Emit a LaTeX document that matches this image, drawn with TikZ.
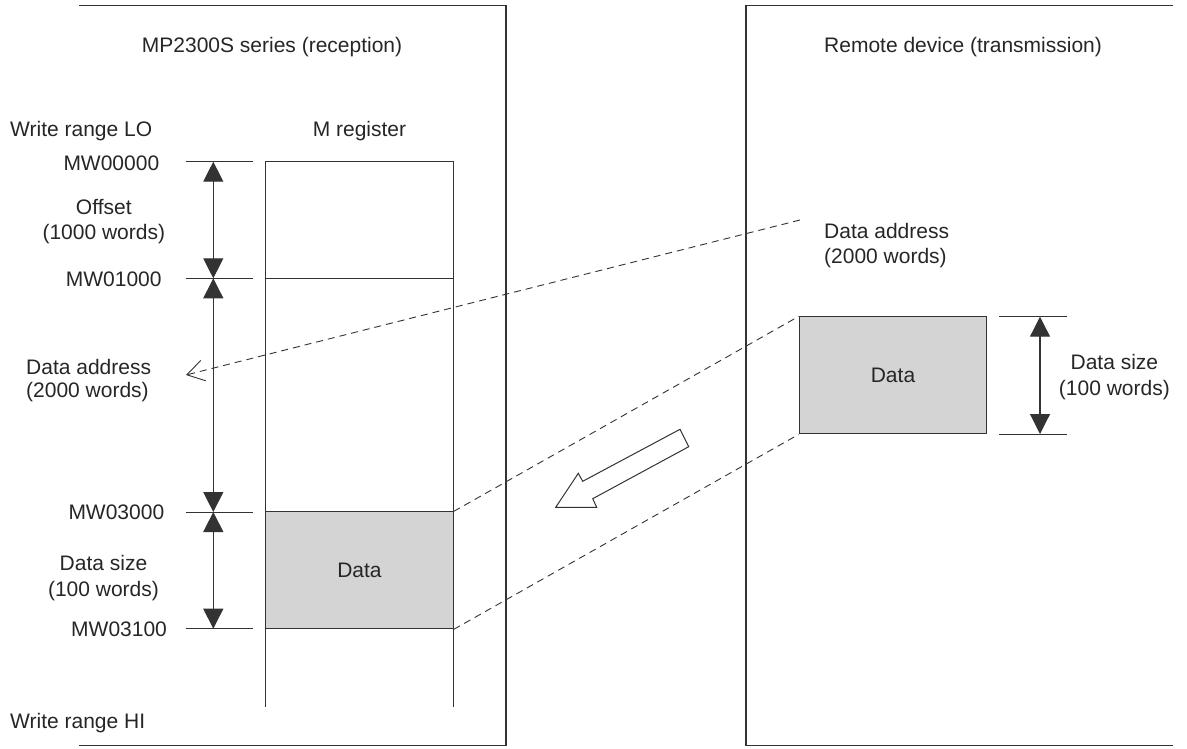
\documentclass[tikz,border=0pt]{standalone}
\usepackage{fontspec}
\setmainfont{Liberation Sans}
\usetikzlibrary{arrows.meta}
\definecolor{ln}{HTML}{333333}
\definecolor{txt}{HTML}{262626}
\definecolor{fillg}{HTML}{D4D4D4}
\begin{document}
\begin{tikzpicture}[x=1pt,y=-1pt,
  frame/.style={draw=ln, line width=1.4pt},
  thinln/.style={draw=ln, line width=1pt},
  tick/.style={draw=ln, line width=0.9pt},
  lbl/.style={font=\fontsize{21}{25}\selectfont, text=txt, inner sep=0pt},
  dim/.style={draw=ln, line width=1.1pt, {Triangle[length=20pt,width=20pt]}-{Triangle[length=20pt,width=20pt]}},
  dashln/.style={draw=ln, line width=0.9pt, dash pattern=on 7pt off 5pt},
  databox/.style={draw=ln, line width=1pt, fill=fillg, minimum width=187.5pt, minimum height=117pt, inner sep=0pt, font=\fontsize{21}{25}\selectfont, text=txt},
]
\useasboundingbox (0,0) rectangle (1187,748);

% frames
\coordinate (lf1) at (79,5.7);
\coordinate (lf2) at (506,5.7);
\coordinate (lf3) at (506,745.7);
\coordinate (lf4) at (79,745.7);
\draw[frame] (lf1) -- (lf2) -- (lf3) -- (lf4);
\coordinate (rf1) at (1173,5.7);
\coordinate (rf2) at (746,5.7);
\coordinate (rf3) at (746,745.7);
\coordinate (rf4) at (1173,745.7);
\draw[frame] (rf1) -- (rf2) -- (rf3) -- (rf4);

% M register column
\coordinate (mbl) at (265.7,706.7);
\coordinate (mtl) at (265.7,161.7);
\coordinate (mtr) at (453.3,161.7);
\coordinate (mbr) at (453.3,706.7);
\draw[thinln] (mbl) -- (mtl) -- (mtr) -- (mbr);
\coordinate (m1l) at (265.7,278.3);
\coordinate (m1r) at (453.3,278.3);
\draw[thinln] (m1l) -- (m1r);

% data boxes
\node[databox] (ldata) at (359.5,570.35) {Data};
\node[databox] (rdata) at (893,375.35) {Data};

% ticks left
\foreach \n/\y in {a/161.7,b/278.3,c/512,d/628.7}{
  \coordinate (t\n l) at (185.7,\y);
  \coordinate (t\n r) at (253.3,\y);
  \coordinate (t\n m) at (213.3,\y);
  \draw[tick] (t\n l) -- (t\n r);
}
\draw[dim] (tam) -- (tbm);
\draw[dim] (tbm) -- (tcm);
\draw[dim] (tcm) -- (tdm);

% ticks right
\foreach \n/\y in {e/316.7,f/434}{
  \coordinate (t\n l) at (999,\y);
  \coordinate (t\n r) at (1067,\y);
  \coordinate (t\n m) at (1040,\y);
  \draw[tick] (t\n l) -- (t\n r);
}
\draw[dim] (tem) -- (tfm);

% dashed connectors
\draw[dashln] (ldata.north east) -- (rdata.north west);
\draw[dashln] (ldata.south east) -- (rdata.south west);
\coordinate (addrR) at (800,220);
\coordinate (addrL) at (186,375);
\draw[dashln, -{Straight Barb[length=17pt,width=21pt,line width=0.9pt]}] (addrR) -- (addrL);

% block arrow
\draw[thinln, line join=miter] (680,429.3) -- (688.7,446.7) -- (592.7,498.7) -- (596.7,507.3) -- (555.7,507.3) -- (578.3,473.3) -- (582.7,481.3) -- cycle;

% labels
\node[lbl, anchor=base west] (title1) at (141.7,52.3) {MP2300S series (reception)};
\node[lbl, anchor=base west] (title2) at (824,52.3) {Remote device (transmission)};
\node[lbl, anchor=base west] (wlo) at (10,136.3) {Write range LO};
\node[lbl, anchor=base] (mreg) at (359.5,136.3) {M register};
\node[lbl, anchor=base west] (mw0) at (63.3,170) {MW00000};
\node[lbl, anchor=base] (off1) at (103.8,214.3) {Offset};
\node[lbl, anchor=base] (off2) at (103.8,239.3) {(1000 words)};
\node[lbl, anchor=base west] (mw1) at (65.7,286) {MW01000};
\node[lbl, anchor=base west] (da1) at (26,374.3) {Data address};
\node[lbl, anchor=base west] (da2) at (26,397.3) {(2000 words)};
\node[lbl, anchor=base west] (mw3) at (68.3,519) {MW03000};
\node[lbl, anchor=base] (ds1) at (103.5,570.7) {Data size};
\node[lbl, anchor=base] (ds2) at (103.5,596.7) {(100 words)};
\node[lbl, anchor=base west] (mw31) at (71,636.7) {MW03100};
\node[lbl, anchor=base west] (whi) at (10,728.3) {Write range HI};
\node[lbl, anchor=base west] (rda1) at (824,238.7) {Data address};
\node[lbl, anchor=base west] (rda2) at (824,263.3) {(2000 words)};
\node[lbl, anchor=base] (rds1) at (1114.4,369) {Data size};
\node[lbl, anchor=base] (rds2) at (1114.4,395) {(100 words)};
\end{tikzpicture}
\end{document}
